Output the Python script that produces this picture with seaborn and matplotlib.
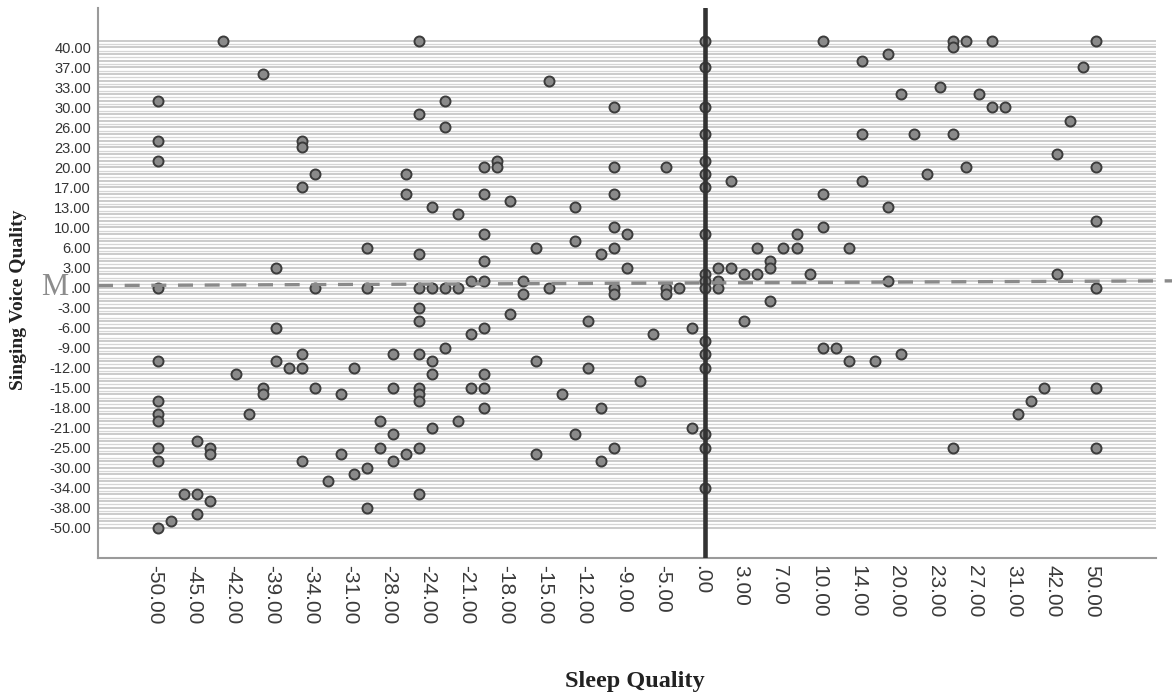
import numpy as np
import pandas as pd
import matplotlib
matplotlib.use("Agg")
import matplotlib.pyplot as plt
import matplotlib.transforms as mtransforms
import seaborn as sns

# ---- category levels (the axes are categorical, evenly spaced) ----
x_categories = [-50, -49, -47, -45, -44, -43, -42, -41, -40, -39, -37, -35, -34, -33, -32,
                -31, -30, -29, -28, -26, -25, -24, -23, -22, -21, -20, -19, -18, -17, -16,
                -15, -14, -13, -12, -11, -10, -9, -8, -6, -5, -3, -1, 0, 1, 2, 3, 5, 6, 7,
                8, 9, 10, 12, 13, 14, 16, 18, 20, 21, 22, 23, 25, 26, 27, 29, 30, 31, 35,
                40, 42, 45, 48, 50]
y_categories = [-50, -45, -40, -38, -37, -35, -34, -33, -31, -30, -28, -27, -25, -24, -22,
                -21, -20, -19, -18, -17, -16, -15, -14, -13, -12, -11, -10, -9, -8, -7, -6,
                -5, -4, -3, -2, -1, 0, 1, 2, 3, 4, 5, 6, 7, 9, 10, 11, 12, 13, 14, 16, 17,
                18, 19, 20, 21, 22, 23, 24, 25, 26, 27, 29, 30, 31, 32, 33, 35, 36, 37, 38,
                39, 40, 41]

x_tick_values = [-50, -45, -42, -39, -34, -31, -28, -24, -21, -18, -15, -12, -9, -5, 0,
                 3, 7, 10, 14, 20, 23, 27, 31, 42, 50]
x_tick_labels = ["-50.00", "-45.00", "-42.00", "-39.00", "-34.00", "-31.00", "-28.00",
                 "-24.00", "-21.00", "-18.00", "-15.00", "-12.00", "-9.00", "-5.00", ".00",
                 "3.00", "7.00", "10.00", "14.00", "20.00", "23.00", "27.00", "31.00",
                 "42.00", "50.00"]
y_tick_values = [-50, -38, -34, -30, -25, -21, -18, -15, -12, -9, -6, -3, 0, 3, 6, 10, 13,
                 17, 20, 23, 26, 30, 33, 37, 40]
y_tick_labels = ["-50.00", "-38.00", "-34.00", "-30.00", "-25.00", "-21.00", "-18.00",
                 "-15.00", "-12.00", "-9.00", "-6.00", "-3.00", ".00", "3.00", "6.00",
                 "10.00", "13.00", "17.00", "20.00", "23.00", "26.00", "30.00", "33.00",
                 "37.00", "40.00"]

# ---- observations ----
sleep_quality = [
    -43, -40, -50, -50, -35, -35, -50, -34, -35, -30, -39,
    -50, -34, -30, -39, -35, -50, -39, -37, -35, -31, -28, -42, -40, -40, -34, -28, -32,
    -50, -50, -50, -41, -29, -28, -50, -50, -45, -44, -44, -29, -32, -35, -28, -30, -31,
    -33, -47, -45, -44, -30, -45, -49, -50,
    -25, -15, -23, -25, -23, -10, 0, 0, 0, 0, 0, 0, 0, 0, 0, -26, -26, -20, -19, -19,
    -10, -5, 2, -20, -10, -18, -24, -22, -13, -20, -10, -9, -13, -16, -25, -20, -11,
    -10, -9, 5, 1, 2, 3, 5, 6, 6,
    -21, -20, -17, -25, -24, -23, -22, -15, -17, -10, -10, -5, -5, -3, 0, 0, 1, 1, 6, 3,
    -25, -25, -18, -12, -20, -21, -6, -1, 0, 0, 0, -23, -25, -24, -24, -16, -12, -8,
    -25, -25, -25, -21, -20, -20, -14, -20, -11, -22, -24, -13, -1, 0, 0, -25, -26, -16,
    -11, -10, -25, 0,
    10, 14, 18, 25, 25, 26, 29, 50, 48, 20, 23, 27, 29, 30, 45, 14, 21, 25, 42, 50, 26,
    22, 14, 10, 18, 50, 10, 8, 7, 8, 13, 9, 42,
    18, 50, 10, 12, 13, 16, 20, 40, 50, 35, 31, 25, 50,
]
voice_quality = [
    41, 36, 31, 24, 24, 23, 21, 19, 17, 6, 3,
    0, 0, 0, -6, -10, -11, -11, -12, -12, -12, -10, -13, -15, -16, -15, -15, -16,
    -17, -19, -20, -19, -20, -22, -25, -28, -24, -25, -27, -25, -27, -28, -28, -30, -31,
    -33, -35, -35, -37, -38, -40, -45, -50,
    41, 35, 31, 29, 26, 30, 41, 37, 30, 25, 21, 19, 17, 9, 2, 19, 16, 20, 21, 20,
    20, 20, 18, 16, 16, 14, 13, 12, 13, 9, 10, 9, 7, 6, 5, 4, 5,
    6, 3, 6, 3, 3, 2, 2, 4, 3,
    1, 1, 1, 0, 0, 0, 0, 0, -1, 0, -1, 0, -1, 0, 1, 0, 1, 0, -2, -5,
    -3, -5, -4, -5, -6, -7, -7, -6, -8, -10, -12, -9, -10, -11, -13, -11, -12, -14,
    -15, -16, -17, -15, -15, -13, -16, -18, -18, -20, -21, -22, -21, -22, -25, -25, -27, -27,
    -28, -25, -35, -34,
    41, 38, 39, 41, 40, 41, 41, 41, 37, 32, 33, 32, 30, 30, 27, 25, 25, 25, 22, 20, 20,
    19, 18, 16, 13, 11, 10, 9, 6, 6, 6, 2, 2,
    1, 0, -9, -9, -11, -11, -10, -15, -15, -17, -19, -25, -25,
]
# dashed reference ("M") line: value at left edge and at right edge of the chart
m_line_values = [0.3, 1.0]

# ---- figure ----
sns.set_style("white")
plt.rcParams["font.family"] = ["Liberation Sans", "DejaVu Sans"]

W, H = 1172, 696
fig = plt.figure(figsize=(W / 100, H / 100), dpi=100)
L, R, T, B = 98, 1156, 8, 558
ax = fig.add_axes([L / W, 1 - B / H, (R - L) / W, (B - T) / H])

x_pos = np.arange(len(x_categories))
y_pos = np.arange(len(y_categories))
df = pd.DataFrame({
    "Sleep Quality": np.interp(sleep_quality, x_categories, x_pos),
    "Singing Voice Quality": np.interp(voice_quality, y_categories, y_pos),
})

# horizontal category grid lines (dense striping)
for j in y_pos:
    ax.axhline(j, color="#c2c2c2", lw=1.2, zorder=1)
    if j < y_pos[-1]:
        ax.axhline(j + 0.5, color="#d6d6d6", lw=0.9, zorder=1)

sns.scatterplot(data=df, x="Sleep Quality", y="Singing Voice Quality", ax=ax,
                s=52, color="#8a8a8a", edgecolor="#3c3c3c", linewidth=1.4, zorder=3,
                legend=False)

# vertical reference line at Sleep Quality = 0
ax.axvline(np.interp(0, x_categories, x_pos), color="#333333", lw=3.3, zorder=4)

ax.set_xlim(-4.63, 76.6)
ax.set_ylim(-4.54, 77.9)

# dashed line, runs to the right edge of the figure
blend = mtransforms.blended_transform_factory(ax.transAxes, ax.transData)
m_idx = np.interp(m_line_values, y_categories, y_pos)
ax.plot([0, (W - L) / (R - L)], m_idx, transform=blend, color="#8a8a8a", lw=2.4,
        dashes=(4.5, 3.5), clip_on=False, zorder=5)

ax.set_xticks(np.interp(x_tick_values, x_categories, x_pos))
ax.set_xticklabels(x_tick_labels, rotation=-90, fontsize=15, color="#3a3a3a")
ax.set_yticks(np.interp(y_tick_values, y_categories, y_pos))
ax.set_yticklabels(y_tick_labels, fontsize=10.5, color="#333333")
ax.tick_params(axis="x", length=0, pad=5)
ax.tick_params(axis="y", length=0, pad=5)
offset = mtransforms.ScaledTranslation(-4 / 100, 0, fig.dpi_scale_trans)
for lab in ax.get_xticklabels():
    lab.set_transform(lab.get_transform() + offset)

ax.set_xlabel("")
ax.set_ylabel("")
for side in ("top", "right"):
    ax.spines[side].set_visible(False)
for side in ("left", "bottom"):
    ax.spines[side].set_color("#9a9a9a")
    ax.spines[side].set_linewidth(1.5)

serif = ["Liberation Serif", "DejaVu Serif"]
fig.text(635 / W, 1 - 681 / H, "Sleep Quality", fontsize=17.5, fontweight="bold",
         family=serif, ha="center", va="center", color="#222222")
fig.text(19 / W, 1 - 300 / H, "Singing Voice Quality", fontsize=14, fontweight="bold",
         family=serif, rotation=90, ha="center", va="center", color="#222222")
fig.text(55 / W, 1 - 288 / H, "M", fontsize=22, family=serif, ha="center",
         va="center", color="#8c8c8c")

fig.savefig("out.png", dpi=100, facecolor="white")
